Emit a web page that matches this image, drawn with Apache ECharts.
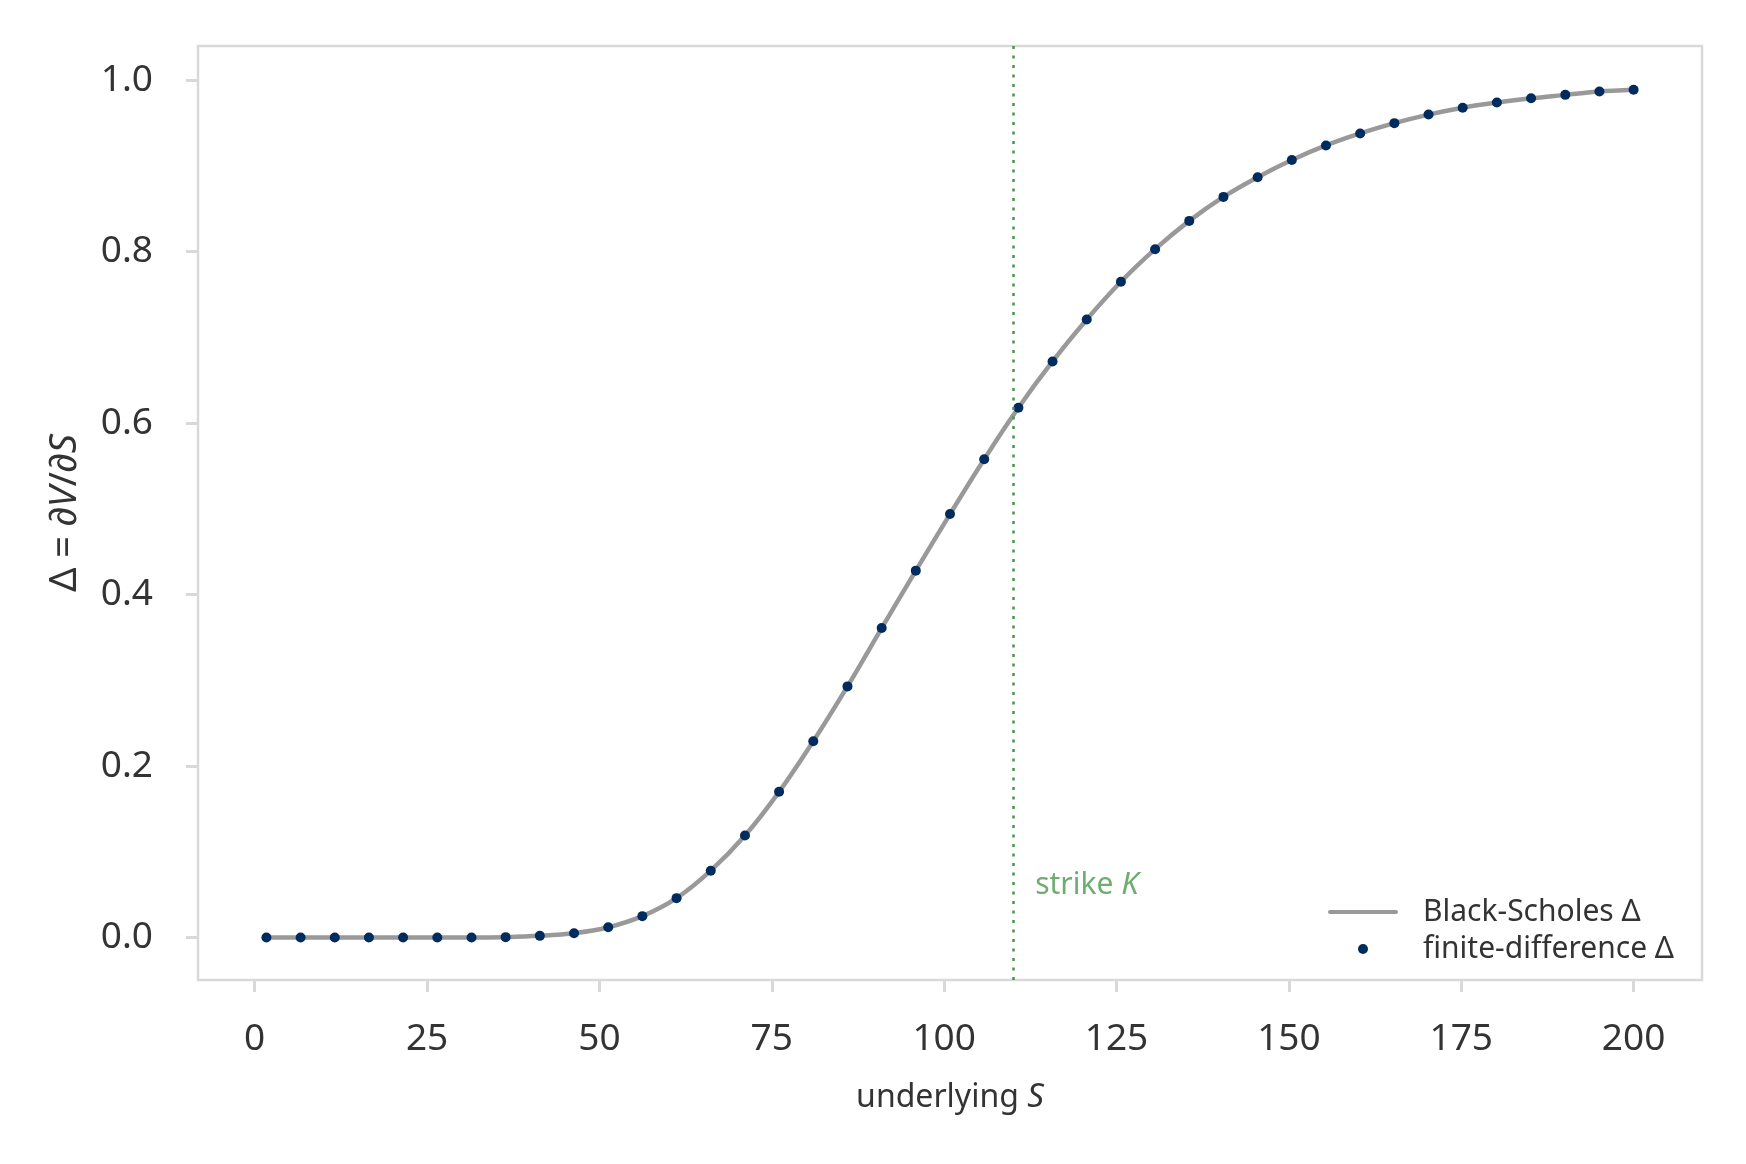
<!DOCTYPE html>
<html>
<head>
<meta charset="utf-8">
<script src="https://cdn.jsdelivr.net/npm/echarts@6/dist/echarts.min.js"></script>
<style>
  html, body { margin: 0; padding: 0; background: #fff; }
  #main { width: 1746px; height: 1164px; }
</style>
</head>
<body>
<div id="main"></div>
<script>
// underlying prices S where delta was evaluated
var sValues = [1.70, 6.66, 11.62, 16.57, 21.53, 26.49, 31.45, 36.40, 41.36, 46.32,
  51.28, 56.23, 61.19, 66.15, 71.11, 76.06, 81.02, 85.98, 90.94, 95.89,
  100.85, 105.81, 110.77, 115.72, 120.68, 125.64, 130.60, 135.55, 140.51, 145.47,
  150.43, 155.38, 160.34, 165.30, 170.26, 175.21, 180.17, 185.13, 190.09, 195.04, 200.00];

// Black-Scholes delta (grey curve)
var bsDelta = [0.000, 0.000, 0.000, 0.000, 0.000, 0.000, 0.000, 0.0005, 0.002, 0.005,
  0.012, 0.025, 0.046, 0.078, 0.119, 0.170, 0.229, 0.293, 0.361, 0.428,
  0.494, 0.558, 0.618, 0.672, 0.721, 0.765, 0.803, 0.836, 0.864, 0.887,
  0.907, 0.924, 0.938, 0.950, 0.960, 0.968, 0.974, 0.979, 0.983, 0.987, 0.989];

// finite-difference delta (navy dots)
var fdDelta = [0.000, 0.000, 0.000, 0.000, 0.000, 0.000, 0.000, 0.0005, 0.002, 0.005,
  0.012, 0.025, 0.046, 0.078, 0.119, 0.170, 0.229, 0.293, 0.361, 0.428,
  0.494, 0.558, 0.618, 0.672, 0.721, 0.765, 0.803, 0.836, 0.864, 0.887,
  0.907, 0.924, 0.938, 0.950, 0.960, 0.968, 0.974, 0.979, 0.983, 0.987, 0.989];

var strike = 110;
var xTicks = [0, 25, 50, 75, 100, 125, 150, 175, 200];
var yTicks = [0, 0.2, 0.4, 0.6, 0.8, 1.0];

var FONT = '"Noto Sans", sans-serif';
var TXT = '#333333';
var FRAME = '#d9d9d9';

function pairs(xs, ys) {
  return xs.map(function (x, i) { return [x, ys[i]]; });
}

var chart = echarts.init(document.getElementById('main'));

chart.setOption({
  animation: false,
  backgroundColor: '#ffffff',
  textStyle: { fontFamily: FONT },
  grid: {
    left: 198, top: 46, right: 44, bottom: 184,
    show: true, borderColor: FRAME, borderWidth: 2.5, backgroundColor: 'transparent'
  },
  xAxis: {
    type: 'value', min: -8.22, max: 209.92,
    name: 'underlying {i|S}', nameLocation: 'middle', nameGap: 101,
    nameTextStyle: {
      fontFamily: FONT, fontSize: 32, color: TXT,
      rich: { i: { fontFamily: FONT, fontSize: 33, fontStyle: 'italic', color: TXT } }
    },
    axisLine: { show: false, onZero: false },
    splitLine: { show: false },
    axisTick: { show: true, length: 12, lineStyle: { color: FRAME, width: 3 }, customValues: xTicks },
    axisLabel: { fontFamily: FONT, fontSize: 37, color: TXT, margin: 41, customValues: xTicks }
  },
  yAxis: {
    type: 'value', min: -0.0495, max: 1.04,
    name: '{n|Δ = ∂}{i|V}{n|/∂}{i|S}', nameLocation: 'middle', nameGap: 114, nameRotate: 90,
    nameTextStyle: {
      rich: {
        n: { fontFamily: FONT, fontSize: 38, color: TXT },
        i: { fontFamily: FONT, fontSize: 38, fontStyle: 'italic', color: TXT }
      }
    },
    axisLine: { show: false, onZero: false },
    splitLine: { show: false },
    axisTick: { show: true, length: 12, lineStyle: { color: FRAME, width: 3 }, customValues: yTicks },
    axisLabel: {
      fontFamily: FONT, fontSize: 37, color: TXT, margin: 45, customValues: yTicks,
      formatter: function (v) { return v.toFixed(1); }
    }
  },
  legend: {
    orient: 'vertical', left: 1323, top: 891,
    itemWidth: 70, itemHeight: 10, itemGap: 5,
    textStyle: { fontFamily: FONT, fontSize: 30, color: TXT, padding: [0, 0, 0, 20], lineHeight: 32 },
    data: [
      { name: 'Black-Scholes Δ', icon: 'path://M2,0 L68,0 A2,2 0 0 1 68,4 L2,4 A2,2 0 0 1 2,0 Z' },
      { name: 'finite-difference Δ', icon: 'circle' }
    ]
  },
  series: [
    {
      name: 'Black-Scholes Δ', type: 'line',
      data: pairs(sValues, bsDelta),
      smooth: 0.3,
      symbol: 'none',
      lineStyle: { color: '#999999', width: 4.5 },
      itemStyle: { color: '#999999' },
      z: 2,
      markLine: {
        silent: true, symbol: 'none',
        lineStyle: { color: '#469646', width: 2.5, type: [3, 6.5] },
        label: { show: false },
        data: [{ xAxis: strike }]
      }
    },
    {
      name: 'finite-difference Δ', type: 'scatter',
      data: pairs(sValues, fdDelta),
      symbol: 'circle', symbolSize: 10,
      itemStyle: { color: '#002b5e', opacity: 1 },
      z: 3
    },
    {
      name: 'strike-label', type: 'scatter',
      data: [[113.2, 0.061]],
      symbolSize: 0, silent: true,
      label: {
        show: true, position: 'right', distance: 0,
        formatter: 'strike {i|K}',
        fontFamily: FONT, fontSize: 30, color: '#4a994c',
        rich: { i: { fontFamily: FONT, fontSize: 31, fontStyle: 'italic', color: '#4a994c' } }
      }
    }
  ]
});
</script>
</body>
</html>
